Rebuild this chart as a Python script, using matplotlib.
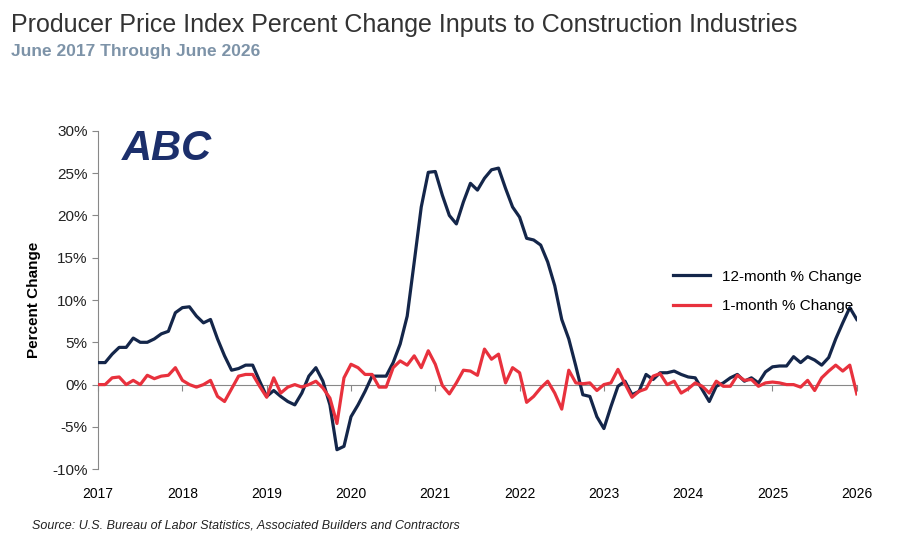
import matplotlib
matplotlib.use('Agg')
import matplotlib.pyplot as plt
import numpy as np

plt.rcParams['font.family'] = ['Liberation Sans', 'DejaVu Sans']

years = ['2017', '2018', '2019', '2020', '2021', '2022', '2023', '2024', '2025', '2026']

# June 2017 .. June 2026, monthly
twelve_month = [2.6, 2.6, 3.6, 4.4, 4.4, 5.5, 5.0, 5.0, 5.4, 6.0, 6.3, 8.5, 9.1, 9.2, 8.1, 7.3,
                7.7, 5.4, 3.4, 1.7, 1.9, 2.3, 2.3, 0.4, -1.4, -0.7, -1.4, -2.0, -2.4, -1.0, 1.0,
                2.0, 0.4, -2.4, -7.7, -7.3, -3.8, -2.4, -0.8, 1.0, 1.0, 1.0, 2.6, 4.8, 8.1, 14.5,
                21.0, 25.1, 25.2, 22.4, 20.0, 19.0, 21.6, 23.8, 23.0, 24.4, 25.4, 25.6, 23.2,
                21.0, 19.8, 17.3, 17.1, 16.5, 14.5, 11.7, 7.7, 5.4, 2.2, -1.2, -1.4, -3.8, -5.2,
                -2.6, -0.2, 0.4, -1.2, -0.8, 1.2, 0.6, 1.4, 1.4, 1.6, 1.2, 0.9, 0.8, -0.6, -2.0,
                -0.2, 0.2, 0.8, 1.2, 0.4, 0.8, 0.2, 1.5, 2.1, 2.2, 2.2, 3.3, 2.6, 3.3, 2.9, 2.3,
                3.2, 5.4, 7.3, 9.1, 7.7]
one_month = [0.0, 0.0, 0.8, 0.9, 0.0, 0.5, 0.0, 1.1, 0.7, 1.0, 1.1, 2.0, 0.5, 0.0, -0.3, 0.0,
             0.5, -1.4, -2.0, -0.5, 1.0, 1.2, 1.2, -0.2, -1.5, 0.8, -1.0, -0.3, 0.0, -0.3, 0.0,
             0.4, -0.4, -1.6, -4.6, 0.8, 2.4, 2.0, 1.2, 1.2, -0.3, -0.3, 2.0, 2.8, 2.3, 3.4,
             2.0, 4.0, 2.4, -0.1, -1.1, 0.2, 1.7, 1.6, 1.1, 4.2, 3.0, 3.6, 0.2, 2.0, 1.4, -2.1,
             -1.4, -0.4, 0.4, -1.0, -2.9, 1.7, 0.2, 0.1, 0.2, -0.7, 0.0, 0.2, 1.8, 0.1, -1.5,
             -0.8, -0.5, 1.0, 1.3, 0.0, 0.4, -1.0, -0.5, 0.2, -0.2, -1.0, 0.4, -0.2, -0.2, 1.1,
             0.5, 0.6, -0.2, 0.2, 0.3, 0.2, 0.0, 0.0, -0.3, 0.5, -0.7, 0.8, 1.6, 2.3, 1.6, 2.3,
             -1.1]

navy = '#14264a'
red = '#e8313d'
x = np.arange(len(twelve_month))

fig = plt.figure(figsize=(9, 5.5), dpi=100)
ax = fig.add_axes([0.109, 0.147, 0.843, 0.615])
ax.plot(x, twelve_month, color=navy, lw=2.3, label='12-month % Change', zorder=3)
ax.plot(x, one_month, color=red, lw=2.3, label='1-month % Change', zorder=3)

ax.set_xlim(0, 108)
ax.set_ylim(-10, 30)
ax.set_yticks(range(-10, 31, 5))
ax.set_yticklabels([f'{v}%' for v in range(-10, 31, 5)], fontsize=11, color='#222222')
ax.set_xticks(range(0, 109, 12))
ax.set_xticklabels(years, fontsize=11, color='#222222')
for s in ['top', 'right']:
    ax.spines[s].set_visible(False)
ax.spines['left'].set_color('#888888')
ax.spines['bottom'].set_position(('data', 0))
ax.spines['bottom'].set_color('#888888')
ax.tick_params(axis='x', length=4, color='#888888', pad=70)
ax.tick_params(axis='y', length=4, color='#888888')
ax.set_ylabel('Percent Change', fontsize=11, fontweight='bold', labelpad=8)

ax.legend(loc='upper left', bbox_to_anchor=(0.74, 0.63), frameon=False, fontsize=11,
          handlelength=2.4, labelspacing=1.0)

fig.text(0.012, 0.955, 'Producer Price Index Percent Change Inputs to Construction Industries',
         fontsize=18, color='#333333', va='center')
fig.text(0.012, 0.907, 'June 2017 Through June 2026', fontsize=12.5, fontweight='bold',
         color='#7d93a8', va='center')
fig.text(0.035, 0.045, 'Source: U.S. Bureau of Labor Statistics, Associated Builders and Contractors',
         fontsize=9, style='italic', color='#222222', va='center')
fig.text(0.135, 0.73, 'ABC', fontsize=30, fontweight='heavy', style='italic', color='#1c2f6b',
         va='center')

fig.savefig('out.png', dpi=100)
